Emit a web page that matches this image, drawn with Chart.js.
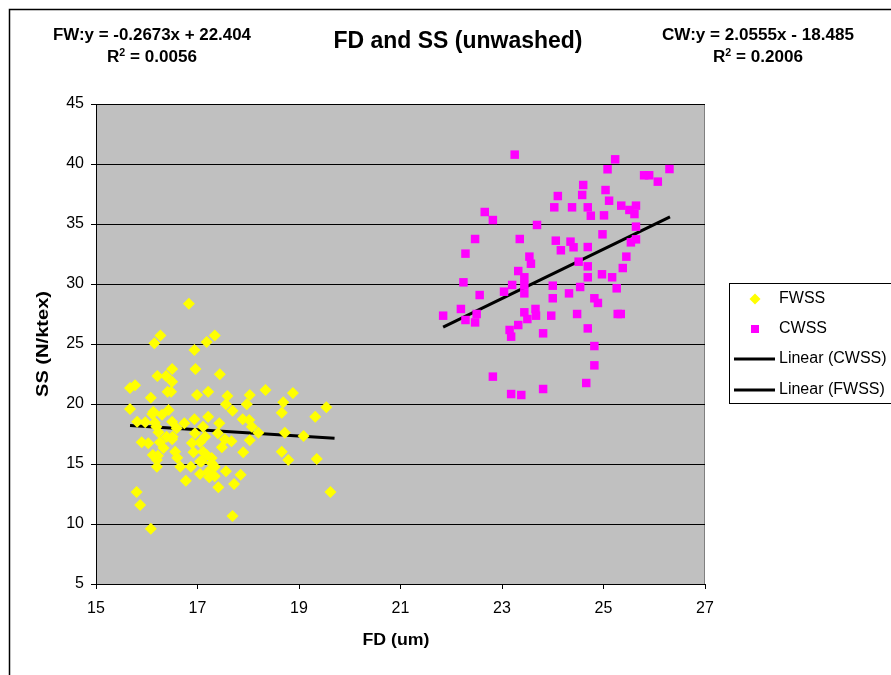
<!DOCTYPE html>
<html>
<head>
<meta charset="utf-8">
<script src="https://cdn.jsdelivr.net/npm/chart.js@4/dist/chart.umd.min.js"></script>
<style>
  body { margin: 0; background: #fff; }
  #wrap { width: 891px; height: 675px; position: relative; }
</style>
</head>
<body>
<div id="wrap"><canvas id="ssChart"></canvas></div>
<script>
// FWSS (unwashed fine wool) points
const fwX = [16.83, 16.27, 16.15, 17.34, 17.18, 16.94, 16.96, 16.50, 16.21, 16.38, 17.44, 16.50, 15.67, 15.77, 16.41,
  16.48, 17.21, 16.99, 18.34, 18.88, 18.03, 17.59, 16.08, 17.56, 17.97, 18.69, 15.67, 17.69, 16.43, 18.66,
  19.54, 19.32, 16.11, 16.30, 17.21, 16.94, 15.81, 15.97, 16.16, 16.50, 17.89, 18.02, 17.43, 16.74, 17.11,
  18.07, 18.20, 17.40, 16.23, 16.59, 18.72, 19.09, 17.54, 17.67, 18.03, 16.50, 16.26, 15.90, 16.03, 16.89,
  17.05, 17.48, 16.33, 16.56, 16.92, 17.11, 17.90, 18.66, 18.79, 19.35, 16.20, 17.28, 16.60, 16.20, 16.66,
  16.87, 17.05, 17.34, 17.05, 17.23, 17.34, 17.56, 17.85, 16.77, 17.72, 17.41, 15.80, 19.62, 15.87, 17.69,
  16.08, 16.13, 16.19, 16.39, 16.51, 16.12, 16.22, 16.95, 17.15, 17.08, 17.18, 17.28, 17.21];
const fwY = [28.36, 25.70, 25.06, 25.70, 25.17, 24.50, 22.92, 22.92, 22.33, 22.33, 22.47, 21.86, 21.33, 21.56, 21.03,
  21.03, 21.03, 20.75, 21.17, 20.92, 20.75, 20.67, 20.53, 19.97, 19.97, 20.14, 19.58, 19.44, 19.50, 19.28,
  19.72, 18.94, 19.17, 19.10, 18.94, 18.72, 18.53, 18.47, 18.44, 18.53, 18.72, 18.67, 18.40, 18.40, 18.11,
  18.11, 17.61, 17.56, 17.64, 17.97, 17.60, 17.33, 17.06, 16.89, 16.97, 17.06, 16.81, 16.81, 16.72, 16.75,
  16.81, 16.39, 16.33, 16.03, 15.97, 16.03, 15.97, 16.03, 15.33, 15.42, 15.33, 15.50, 15.53, 14.78, 14.78,
  14.78, 15.20, 14.78, 14.17, 13.90, 13.97, 14.40, 14.11, 13.61, 13.33, 13.06, 12.67, 12.67, 11.58, 10.67,
  9.61, 19.36, 18.11, 17.28, 17.28, 15.75, 15.69, 17.56, 17.28, 15.20, 15.75, 15.06, 14.36];

// CWSS (unwashed coarse wool) points
const cwX = [23.25, 25.23, 25.08, 26.30, 25.80, 25.90, 26.07, 24.60, 24.58, 25.04, 25.11, 24.10, 24.03, 24.38, 24.69,
  24.75, 25.01, 25.35, 25.51, 25.64, 25.61, 22.66, 22.82, 23.69, 25.64, 24.98, 25.64, 25.54, 22.47, 23.35,
  24.06, 24.35, 24.41, 24.16, 24.69, 22.28, 23.54, 23.57, 25.45, 25.38, 24.51, 24.69, 23.32, 23.44, 24.69,
  24.97, 25.17, 25.26, 23.20, 23.44, 22.24, 24.00, 24.54, 23.04, 23.44, 24.32, 22.56, 24.00, 24.82, 24.89,
  22.19, 21.84, 22.28, 22.47, 22.50, 23.44, 23.66, 23.67, 23.50, 23.97, 24.48, 25.28, 25.34, 23.32, 23.15,
  23.18, 23.81, 24.69, 24.82, 24.82, 22.82, 24.66, 23.81, 23.18, 23.38];
const cwY = [40.78, 40.39, 39.56, 39.58, 39.06, 39.06, 38.53, 38.25, 37.42, 37.83, 36.94, 37.33, 36.39, 36.39, 36.39,
  35.69, 35.72, 36.53, 36.17, 36.53, 35.83, 36.00, 35.33, 34.92, 34.78, 34.14, 33.72, 33.47, 33.75, 33.75,
  33.61, 33.53, 33.06, 32.81, 33.08, 32.53, 32.28, 31.69, 32.28, 31.33, 31.86, 31.47, 31.08, 30.56, 30.56,
  30.81, 30.56, 29.64, 29.92, 29.92, 30.14, 29.86, 29.75, 29.36, 29.22, 29.22, 29.08, 28.81, 28.81, 28.42,
  27.92, 27.36, 27.00, 26.80, 27.50, 27.64, 27.92, 27.36, 27.08, 27.36, 27.50, 27.50, 27.50, 26.58, 26.17,
  25.61, 25.89, 26.30, 24.83, 23.22, 22.28, 21.75, 21.25, 20.83, 20.75];

// trend line ends
const fwTrendX = [15.67, 19.70];
const fwTrendY = [18.21, 17.14];
const cwTrendX = [21.84, 26.31];
const cwTrendY = [26.41, 35.60];

const seriesNames = ['FWSS', 'CWSS', 'Linear (CWSS)', 'Linear (FWSS)'];
const xTicks = [15, 17, 19, 21, 23, 25, 27];
const yTicks = [5, 10, 15, 20, 25, 30, 35, 40, 45];

const toPoints = (xs, ys) => xs.map((x, i) => ({ x: x, y: ys[i] }));

const FONT = '"Liberation Sans", Arial, sans-serif';

// draw text centred at (cx, cy), squeezed/stretched to a given width
function fitText(ctx, text, cx, cy, font, width, angle) {
  ctx.save();
  ctx.font = font;
  ctx.textAlign = 'center';
  ctx.textBaseline = 'middle';
  const w = ctx.measureText(text).width;
  ctx.translate(cx, cy);
  if (angle) ctx.rotate(angle);
  ctx.scale(width / w, 1);
  ctx.fillText(text, 0, 0);
  ctx.restore();
}

function drawR2(ctx, val, cx, y, width) {
  const big = 'bold 16px ' + FONT;
  const small = 'bold 10px ' + FONT;
  ctx.save();
  ctx.textBaseline = 'middle';
  ctx.textAlign = 'left';
  ctx.font = big;
  const wa = ctx.measureText('R').width;
  const wb = ctx.measureText(' = ' + val).width;
  ctx.font = small;
  const ws = ctx.measureText('2').width;
  const k = width / (wa + ws + wb);
  ctx.translate(cx - width / 2, y);
  ctx.scale(k, 1);
  ctx.font = big;
  ctx.fillText('R', 0, 0);
  ctx.fillText(' = ' + val, wa + ws, 0);
  ctx.font = small;
  ctx.fillText('2', wa, -5);
  ctx.restore();
}

// background, frame, titles, legend
const decor = {
  id: 'decor',
  beforeDraw(chart) {
    const ctx = chart.ctx;
    const a = chart.chartArea;
    ctx.save();
    ctx.fillStyle = '#fff';
    ctx.fillRect(0, 0, chart.width, chart.height);
    ctx.fillStyle = '#C0C0C0';
    ctx.fillRect(a.left, a.top, a.right - a.left, a.bottom - a.top);
    ctx.strokeStyle = '#808080';
    ctx.lineWidth = 1;
    ctx.strokeRect(a.left + 0.5, a.top + 0.5, a.right - a.left - 1, a.bottom - a.top);
    ctx.restore();
  },
  afterDraw(chart) {
    const ctx = chart.ctx;
    ctx.save();
    // outer frame
    ctx.strokeStyle = '#000';
    ctx.lineWidth = 1.5;
    ctx.strokeRect(9.5, 9.5, 950, 700);

    ctx.fillStyle = '#000';
    fitText(ctx, 'FD and SS (unwashed)', 458, 42, 'bold 23px ' + FONT, 249);
    fitText(ctx, 'FW:y = -0.2673x + 22.404', 152, 36, 'bold 16px ' + FONT, 198);
    fitText(ctx, 'CW:y = 2.0555x - 18.485', 758, 36, 'bold 16px ' + FONT, 192);
    drawR2(ctx, '0.0056', 152, 58, 90);
    drawR2(ctx, '0.2006', 758, 58, 90);

    // axis titles
    fitText(ctx, 'FD (um)', 396, 641, 'bold 16px ' + FONT, 67);
    fitText(ctx, 'SS (N/ktex)', 44, 344, 'bold 16px ' + FONT, 106, -Math.PI / 2);
    ctx.restore();

    // legend
    ctx.save();
    ctx.strokeStyle = '#000';
    ctx.lineWidth = 1;
    ctx.strokeRect(729.5, 283.5, 200, 120);
    ctx.font = '16px ' + FONT;
    ctx.textAlign = 'left';
    ctx.textBaseline = 'middle';
    const rows = [299, 329, 359, 390];
    seriesNames.forEach((name, i) => {
      ctx.fillStyle = '#000';
      ctx.fillText(name, 779, rows[i]);
    });
    // markers
    ctx.fillStyle = '#FFFF00';
    ctx.beginPath();
    ctx.moveTo(755, rows[0] - 5.5);
    ctx.lineTo(760.5, rows[0]);
    ctx.lineTo(755, rows[0] + 5.5);
    ctx.lineTo(749.5, rows[0]);
    ctx.closePath();
    ctx.fill();
    ctx.fillStyle = '#FF00FF';
    ctx.fillRect(751, rows[1] - 4, 8, 8);
    ctx.strokeStyle = '#000';
    ctx.lineWidth = 3;
    ctx.beginPath();
    ctx.moveTo(734, rows[2]); ctx.lineTo(775, rows[2]);
    ctx.moveTo(734, rows[3]); ctx.lineTo(775, rows[3]);
    ctx.stroke();
    ctx.restore();
  }
};

new Chart(document.getElementById('ssChart'), {
  type: 'scatter',
  data: {
    datasets: [
      {
        label: seriesNames[0],
        data: toPoints(fwX, fwY),
        pointStyle: 'rectRot',
        pointRadius: 6,
        pointHoverRadius: 6,
        backgroundColor: '#FFFF00',
        borderColor: '#FFFF00',
        borderWidth: 0
      },
      {
        label: seriesNames[1],
        data: toPoints(cwX, cwY),
        pointStyle: 'rect',
        pointRadius: 6,
        pointHoverRadius: 6,
        backgroundColor: '#FF00FF',
        borderColor: '#FF00FF',
        borderWidth: 0
      },
      {
        label: seriesNames[2],
        data: toPoints(cwTrendX, cwTrendY),
        showLine: true,
        pointRadius: 0,
        borderColor: '#000',
        borderWidth: 3,
        fill: false
      },
      {
        label: seriesNames[3],
        data: toPoints(fwTrendX, fwTrendY),
        showLine: true,
        pointRadius: 0,
        borderColor: '#000',
        borderWidth: 3,
        fill: false
      }
    ]
  },
  options: {
    responsive: true,
    maintainAspectRatio: false,
    animation: false,
    layout: { padding: { left: 0, top: 104, right: 186, bottom: 0 } },
    plugins: {
      legend: { display: false },
      tooltip: { enabled: false },
      title: { display: false }
    },
    scales: {
      x: {
        type: 'linear',
        min: 15,
        max: 27,
        afterBuildTicks: (s) => { s.ticks = xTicks.map(v => ({ value: v })); },
        afterFit: (s) => { s.height = 91; },
        ticks: { color: '#000', font: { family: FONT, size: 16 }, padding: 10, maxRotation: 0 },
        grid: { drawOnChartArea: false, drawTicks: true, tickLength: 5, color: '#000' },
        border: { display: true, color: '#000', width: 1 }
      },
      y: {
        type: 'linear',
        min: 5,
        max: 45,
        afterBuildTicks: (s) => { s.ticks = yTicks.map(v => ({ value: v })); },
        afterFit: (s) => { s.width = 96; },
        ticks: { color: '#000', font: { family: FONT, size: 16 }, padding: 7 },
        grid: { color: '#000', lineWidth: 1, drawTicks: true, tickLength: 5 },
        border: { display: true, color: '#000', width: 1 }
      }
    }
  },
  plugins: [decor]
});
</script>
</body>
</html>
